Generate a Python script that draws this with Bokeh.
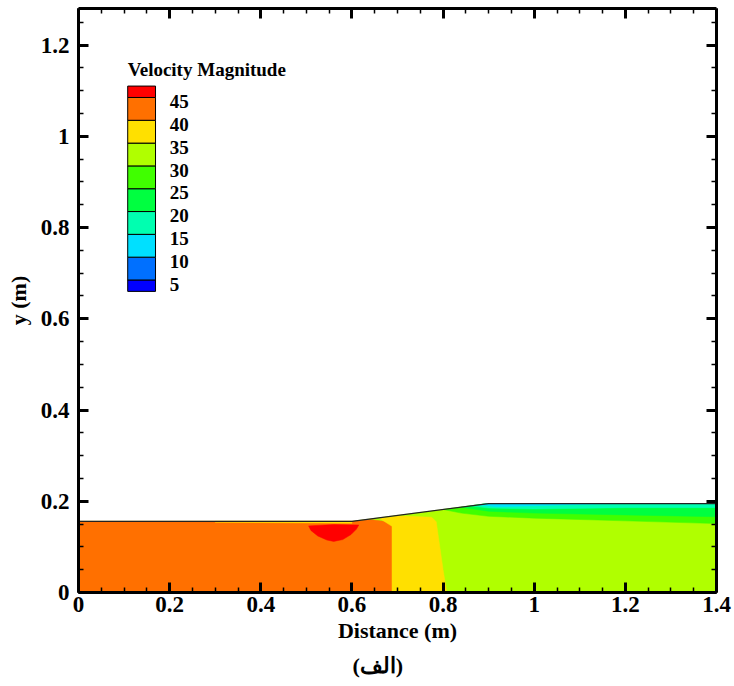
from bokeh.plotting import figure
from bokeh.models import (Range1d, FixedTicker, LinearAxis, CustomJSTickFormatter,
                          ColumnDataSource, Title, Label, LabelSet)
from bokeh.embed import file_html
from bokeh.resources import INLINE

# ---------------- data ----------------
x_ticks = [0.0, 0.2, 0.4, 0.6, 0.8, 1.0, 1.2, 1.4]
y_ticks = [0.0, 0.2, 0.4, 0.6, 0.8, 1.0, 1.2]
x_minor = [i * 0.05 for i in range(0, 29)]
y_minor = [i * 0.05 for i in range(0, 26)]

levels = [5, 10, 15, 20, 25, 30, 35, 40, 45]
level_colors = ["#0000ff", "#0070ff", "#00e0ff", "#00ffb0", "#00ff40",
                "#40ff00", "#b0ff00", "#ffe000", "#ff7000", "#ff0000"]

# free surface of the flow
surface_x = [0.0, 0.6, 0.9, 1.4]
surface_y = [0.156, 0.156, 0.195, 0.195]

# contour zones (painted in order), colour index into level_colors
zone_color_idx = [6, 8, 7, 7, 5, 4, 3, 2, 9]
zone_x = [
    [0.0, 1.4, 1.4, 0.9, 0.6, 0.0],                                   # 30-35 base
    [0.0, 0.688, 0.688, 0.682, 0.67, 0.64, 0.6, 0.0],                 # 40-45
    [0.688, 0.808, 0.80, 0.79, 0.785, 0.775, 0.70, 0.66, 0.688],      # 35-40
    [0.30, 0.6, 0.6, 0.30],                                           # thin strip
    [0.80, 0.9, 1.4, 1.4, 1.2, 1.0, 0.9, 0.84],                       # 25-30
    [0.84, 0.9, 1.4, 1.4, 1.2, 1.0, 0.9],                             # 20-25
    [0.86, 0.9, 1.4, 1.4, 1.2, 1.0, 0.9],                             # 15-20
    [0.88, 0.9, 1.2, 1.1, 1.0, 0.92],                                 # 10-15
    [0.505, 0.51, 0.525, 0.545, 0.56, 0.58, 0.598, 0.61, 0.615, 0.56], # >45
]
zone_y = [
    [0.0, 0.0, 0.195, 0.195, 0.156, 0.156],
    [0.0, 0.0, 0.145, 0.152, 0.156, 0.160, 0.156, 0.156],
    [0.0, 0.0, 0.05, 0.12, 0.155, 0.165, 0.168, 0.163, 0.145],
    [0.156, 0.156, 0.152, 0.154],
    [0.182, 0.195, 0.195, 0.151, 0.157, 0.163, 0.167, 0.174],
    [0.187, 0.195, 0.195, 0.166, 0.170, 0.174, 0.178],
    [0.190, 0.195, 0.195, 0.186, 0.186, 0.183, 0.185],
    [0.192, 0.195, 0.195, 0.193, 0.190, 0.188],
    [0.146, 0.136, 0.124, 0.115, 0.112, 0.116, 0.127, 0.139, 0.148, 0.149],
]

FONT = "Liberation Serif"

# ---------------- figure ----------------
p = figure(width=734, height=686, output_backend="svg", toolbar_location=None,
           x_range=Range1d(0, 1.4), y_range=Range1d(0, 1.28),
           min_border_left=78, min_border_right=18, min_border_top=8,
           min_border_bottom=94)
p.grid.visible = False
p.outline_line_color = None
p.background_fill_color = "white"

src = ColumnDataSource(dict(xs=zone_x, ys=zone_y,
                            c=[level_colors[i] for i in zone_color_idx]))
p.patches("xs", "ys", source=src, fill_color="c", line_color="c", line_width=0.5)
p.line(surface_x, surface_y, line_color="#222222", line_width=1.2)

# legend (colour key)
lx0, lx1 = 0.108, 0.169
step = 0.05
y_base = 0.685
bottoms = [y_base - step / 2] + [y_base + i * step for i in range(len(levels))]
tops = [y_base + i * step for i in range(len(levels))] + [y_base + (len(levels) - 1) * step + step / 2]
p.quad(left=[lx0] * len(level_colors), right=[lx1] * len(level_colors),
       bottom=bottoms, top=tops, fill_color=level_colors, line_color="black",
       line_width=1)
lab_src = ColumnDataSource(dict(x=[0.2] * len(levels),
                                y=[y_base + i * step - 0.009 for i in range(len(levels))],
                                t=[str(v) for v in levels]))
p.add_layout(LabelSet(x="x", y="y", text="t", source=lab_src, text_font=FONT,
                      text_font_style="bold", text_font_size="19px",
                      text_baseline="middle", text_align="left", text_color="black"))
p.add_layout(Label(x=lx0, y=1.147, text="Velocity Magnitude", text_font=FONT,
                   text_font_style="bold", text_font_size="19px", text_baseline="middle",
                   text_align="left", text_color="black"))

fmt = CustomJSTickFormatter(code="return Number(tick.toFixed(2)).toString();")
blank = CustomJSTickFormatter(code="return '';")


def style_axis(ax, ticks, minor, labels=True):
    ax.ticker = FixedTicker(ticks=ticks, minor_ticks=minor)
    ax.axis_line_width = 3
    ax.axis_line_color = "black"
    ax.major_tick_in = 10
    ax.major_tick_out = 0
    ax.major_tick_line_width = 3
    ax.minor_tick_in = 5
    ax.minor_tick_out = 0
    ax.minor_tick_line_width = 1.5
    ax.major_label_text_font = FONT
    ax.major_label_text_font_style = "bold"
    ax.major_label_text_color = "black"
    ax.axis_label_text_font = FONT
    ax.axis_label_text_font_style = "bold"
    ax.axis_label_text_color = "black"
    ax.major_label_text_font_size = "23px"
    ax.axis_label_text_font_size = "22px"
    if labels:
        ax.formatter = fmt
    else:
        ax.formatter = blank
        ax.major_label_standoff = 0


style_axis(p.xaxis[0], x_ticks, x_minor)
style_axis(p.yaxis[0], y_ticks, y_minor)
p.xaxis[0].axis_label = "Distance (m)"
p.yaxis[0].axis_label = "y (m)"
p.xaxis[0].major_label_standoff = 4
p.xaxis[0].axis_label_standoff = 3
p.yaxis[0].major_label_standoff = 9
p.yaxis[0].axis_label_standoff = 7

top_ax = LinearAxis()
style_axis(top_ax, x_ticks, x_minor, labels=False)
p.add_layout(top_ax, "above")
right_ax = LinearAxis()
style_axis(right_ax, y_ticks, y_minor, labels=False)
p.add_layout(right_ax, "right")

t = Title(text="(الف)", align="left", text_font_size="22px", standoff=10,
          text_font=FONT, text_font_style="bold", text_color="black", offset=274)
p.add_layout(t, "below")

open("out.html", "w").write(file_html(p, INLINE))
